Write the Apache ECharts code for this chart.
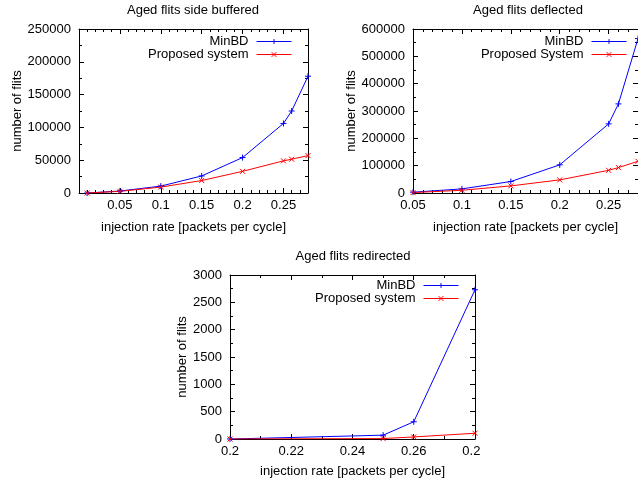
<!DOCTYPE html>
<html><head><meta charset="utf-8">
<script src="https://cdn.jsdelivr.net/npm/echarts@6/dist/echarts.min.js"></script>
<style>html,body{margin:0;padding:0;background:#fff}#c{width:638px;height:487px}</style>
</head><body><div id="c"></div>
<script>
// ---- data ----
const titles = ['Aged flits side buffered', 'Aged flits deflected', 'Aged flits redirected'];
const xName = 'injection rate [packets per cycle]';
const yName = 'number of flits';
const seriesNames1 = ['MinBD', 'Proposed system'];
const seriesNames2 = ['MinBD', 'Proposed System'];
const seriesNames3 = ['MinBD', 'Proposed system'];

const x1 = [0.01, 0.05, 0.1, 0.15, 0.2, 0.25, 0.26, 0.28];
const minbd1 = [0, 3000, 10500, 26000, 54000, 106000, 125000, 178000];
const prop1 = [0, 2500, 9000, 19000, 33000, 49000, 51500, 57000];

const x2 = [0.05, 0.1, 0.15, 0.2, 0.25, 0.26, 0.28];
const minbd2 = [3000, 15000, 42000, 103000, 253000, 326000, 565000];
const prop2 = [1500, 10000, 26000, 48000, 83000, 93000, 116000];

const x3 = [0.2, 0.25, 0.26, 0.28];
const minbd3 = [0, 70, 315, 2730];
const prop3 = [0, 8, 38, 105];

// ---- styling ----
const FONT = 'Liberation Sans, Arial, sans-serif';
const FS = 13;
const PLUS = 'path://M0,5L10,5M5,0L5,10';
const CROSS = 'path://M0,0L10,10M10,0L0,10';
const BLUE = '#0000ff', RED = '#ff0000';

const chart = echarts.init(document.getElementById('c'), null, {renderer: 'canvas'});

const grids = [
  {left: 79, top: 29, width: 229, height: 164},
  {left: 413, top: 29, width: 230, height: 164},
  {left: 230, top: 275, width: 245, height: 164}
];
const xCfg = [
  {min: 0, max: 0.28, interval: 0.05, minor: 5, hideMin: true, gap: 28},
  {min: 0.05, max: 0.28, interval: 0.05, minor: 5, hideMin: false, gap: 28},
  {min: 0.2, max: 0.28, interval: 0.02, minor: 2, hideMin: false, gap: 26}
];
const yCfg = [
  {min: 0, max: 250000, interval: 50000, minor: 2, gap: 54},
  {min: 0, max: 600000, interval: 100000, minor: 2, gap: 53},
  {min: 0, max: 3000, interval: 500, minor: 2, gap: 36}
];

const lineStyle = {color: '#000', width: 1};
const xAxis = [], yAxis = [];
grids.forEach((g, i) => {
  const xc = xCfg[i], yc = yCfg[i];
  xAxis.push({
    type: 'value', gridIndex: i, position: 'bottom', min: xc.min, max: xc.max, interval: xc.interval,
    name: xName, nameLocation: 'middle', nameGap: xc.gap,
    nameTextStyle: {fontFamily: FONT, fontSize: FS, color: '#000'},
    axisLine: {show: true, onZero: false, lineStyle},
    axisTick: {show: true, inside: true, length: 5, lineStyle},
    minorTick: {show: true, splitNumber: xc.minor, length: 3, lineStyle},
    splitLine: {show: false},
    axisLabel: {fontFamily: FONT, fontSize: FS, color: '#000', margin: 6,
      showMinLabel: !xc.hideMin, showMaxLabel: i === 2}
  });
  xAxis.push({
    type: 'value', gridIndex: i, position: 'top', min: xc.min, max: xc.max, interval: xc.interval,
    axisLine: {show: true, onZero: false, lineStyle},
    axisTick: {show: true, inside: true, length: 5, lineStyle},
    minorTick: {show: true, splitNumber: xc.minor, length: 3, lineStyle},
    splitLine: {show: false}, axisLabel: {show: false}
  });
  yAxis.push({
    type: 'value', gridIndex: i, position: 'left', min: yc.min, max: yc.max, interval: yc.interval,
    name: yName, nameLocation: 'middle', nameGap: yc.gap,
    nameTextStyle: {fontFamily: FONT, fontSize: FS, color: '#000'},
    axisLine: {show: true, onZero: false, lineStyle},
    axisTick: {show: true, inside: true, length: 5, lineStyle},
    minorTick: {show: true, splitNumber: yc.minor, length: 3, lineStyle},
    splitLine: {show: false},
    axisLabel: {fontFamily: FONT, fontSize: FS, color: '#000', margin: 8, formatter: v => String(v)}
  });
  yAxis.push({
    type: 'value', gridIndex: i, position: 'right', min: yc.min, max: yc.max, interval: yc.interval,
    axisLine: {show: true, onZero: false, lineStyle},
    axisTick: {show: true, inside: true, length: 5, lineStyle},
    minorTick: {show: true, splitNumber: yc.minor, length: 3, lineStyle},
    splitLine: {show: false}, axisLabel: {show: false}
  });
});

function mk(name, xs, ys, gi, color, sym, size) {
  return {
    type: 'line', name, xAxisIndex: gi * 2, yAxisIndex: gi * 2,
    data: xs.map((x, k) => [x, ys[k]]),
    symbol: sym, symbolSize: size, showSymbol: true,
    lineStyle: {color, width: 1},
    itemStyle: {color, borderColor: color, borderWidth: 1},
    animation: false
  };
}

const series = [
  mk(seriesNames1[0], x1, minbd1, 0, BLUE, PLUS, 6),
  mk(seriesNames1[1], x1, prop1, 0, RED, CROSS, 5),
  mk(seriesNames2[0], x2, minbd2, 1, BLUE, PLUS, 6),
  mk(seriesNames2[1], x2, prop2, 1, RED, CROSS, 5),
  mk(seriesNames3[0], x3, minbd3, 2, BLUE, PLUS, 6),
  mk(seriesNames3[1], x3, prop3, 2, RED, CROSS, 5)
];

function lg(data, right, top) {
  return {
    data, orient: 'vertical', right, top, align: 'right', itemWidth: 35, itemHeight: 6, itemGap: 0,
    padding: 0, selectedMode: false,
    lineStyle: {width: 1},
    itemStyle: {borderWidth: 1},
    textStyle: {fontFamily: FONT, fontSize: FS, color: '#000', padding: [0, 3, 0, 0], lineHeight: 13}
  };
}

const titlePos = [[193, 10], [528, 10], [353, 256]];

chart.setOption({
  animation: false,
  backgroundColor: '#fff',
  grid: grids,
  xAxis, yAxis, series,
  legend: [lg(seriesNames1, 346, 35), lg(seriesNames2, 11, 35), lg(seriesNames3, 179, 279)],
  graphic: titles.map((t, i) => ({
    type: 'text', x: titlePos[i][0], y: titlePos[i][1],
    style: {text: t, fontFamily: FONT, fontSize: FS, fill: '#000', textAlign: 'center', textVerticalAlign: 'middle'}
  })).concat([{
    type: 'rect', shape: {x: 480, y: 442, width: 160, height: 45}, z: 100,
    style: {fill: '#fff'}
  }])
});
</script></body></html>
